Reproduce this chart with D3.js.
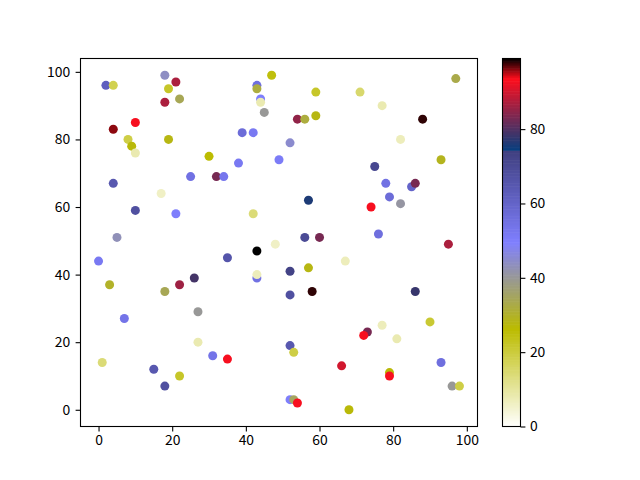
<!DOCTYPE html>
<html>
<head>
<meta charset="utf-8">
<script src="https://cdn.jsdelivr.net/npm/d3@7"></script>
<style>
  body { margin: 0; background: #fff; }
  text { font-family: "Noto Sans CJK SC", "Liberation Sans", sans-serif; font-size: 13.9px; fill: #000; }
</style>
</head>
<body>
<div id="chart"></div>
<script>
// scatter points: x, y, colour value
var xs = [2, 4, 18, 21, 19, 18, 22, 47, 43, 43, 44, 44, 45, 4, 10, 8, 9, 10, 19, 39,
          42, 30, 38, 49, 25, 32, 34, 4, 17, 10, 21, 42, 5, 48, 97, 59, 71, 77, 54, 56,
          59, 88, 82, 52, 93, 75, 78, 85, 86, 79, 82, 74, 57, 56, 60, 76, 95, 0, 3, 7,
          1, 18, 22, 26, 35, 43, 43, 43, 27, 27, 31, 35, 15, 18, 22, 67, 52, 57, 52, 58,
          86, 90, 73, 72, 77, 81, 52, 53, 66, 79, 79, 93, 96, 98, 52, 53, 54, 68];
var ys = [96, 96, 99, 97, 95, 91, 92, 99, 96, 95, 92, 91, 88, 83, 85, 80, 78, 76, 80, 82,
          82, 75, 73, 74, 69, 69, 69, 67, 64, 59, 58, 58, 51, 49, 98, 94, 94, 90, 86, 86,
          87, 86, 80, 79, 74, 72, 67, 66, 67, 63, 61, 60, 62, 51, 51, 52, 49, 44, 37, 27,
          14, 35, 37, 39, 45, 47, 39, 40, 29, 20, 16, 15, 12, 7, 10, 44, 41, 42, 34, 35,
          35, 26, 23, 22, 25, 21, 19, 17, 13, 11, 10, 14, 7, 7, 3, 3, 2, 0];
var cs = [62, 18, 44, 87, 22, 87, 34, 25, 56, 32, 50, 8, 40, 96, 93, 19, 27, 8, 28, 57,
          52, 26, 52, 51, 55, 83, 53, 65, 6, 68, 50, 14, 43, 6, 33, 22, 15, 8, 85, 32,
          28, 98, 7, 45, 29, 71, 55, 60, 83, 57, 41, 93, 76, 70, 83, 56, 87, 52, 30, 54,
          14, 34, 86, 79, 66, 99, 55, 7, 40, 8, 54, 93, 65, 68, 22, 7, 73, 28, 68, 98,
          78, 21, 83, 93, 7, 8, 65, 19, 90, 27, 93, 56, 40, 19, 50, 35, 93, 27];

var cRange = [0, 99];
var xTicks = [0, 20, 40, 60, 80, 100];
var yTicks = [0, 20, 40, 60, 80, 100];
var cTicks = [0, 20, 40, 60, 80];

var width = 640, height = 480;
var plot = { left: 80.5, right: 477.5, top: 58.5, bottom: 426.5 };
var bar = { left: 502.5, right: 520.5 };
var font = "Noto Sans CJK SC, Liberation Sans, sans-serif";

// matplotlib gist_stern, reversed
function gistStern(t) {
  var r, g = t, b;
  if (t < 0.0547) r = t / 0.0547;
  else if (t < 0.25) r = 1 - (t - 0.0547) / (0.25 - 0.0547) * (1 - 0.027);
  else r = t;
  if (t < 0.5) b = 2 * t;
  else if (t < 0.735) b = 1 - (t - 0.5) / 0.235;
  else b = (t - 0.735) / 0.265;
  return d3.rgb(r * 255, g * 255, b * 255).toString();
}
var colour = d3.scaleLinear().domain(cRange).range([1, 0]).clamp(true);
function fill(v) { return gistStern(colour(v)); }

// domains with matplotlib's 5% margins
var xExt = d3.extent(xs), yExt = d3.extent(ys);
var xPad = (xExt[1] - xExt[0]) * 0.05, yPad = (yExt[1] - yExt[0]) * 0.05;
var x = d3.scaleLinear().domain([xExt[0] - xPad, xExt[1] + xPad]).range([plot.left, plot.right]);
var y = d3.scaleLinear().domain([yExt[0] - yPad, yExt[1] + yPad]).range([plot.bottom, plot.top]);
var cy = d3.scaleLinear().domain(cRange).range([plot.bottom, plot.top]);

var svg = d3.select("#chart").append("svg")
    .attr("width", width)
    .attr("height", height);

svg.append("g")
    .selectAll("circle")
    .data(d3.range(xs.length))
    .enter().append("circle")
    .attr("cx", function (i) { return x(xs[i]); })
    .attr("cy", function (i) { return y(ys[i]); })
    .attr("r", 4.5)
    .attr("fill", function (i) { return fill(cs[i]); });

svg.append("rect")
    .attr("x", plot.left).attr("y", plot.top)
    .attr("width", plot.right - plot.left).attr("height", plot.bottom - plot.top)
    .attr("fill", "none").attr("stroke", "#000").attr("stroke-width", 1.1);

var xAxis = svg.append("g")
    .attr("transform", "translate(0," + plot.bottom + ")")
    .call(d3.axisBottom(x).tickValues(xTicks).tickSize(4.9).tickPadding(4));
var yAxis = svg.append("g")
    .attr("transform", "translate(" + plot.left + ",0)")
    .call(d3.axisLeft(y).tickValues(yTicks).tickSize(4.9).tickPadding(5.5));

// colour bar
var steps = d3.range(256).map(function (k) { return cRange[0] + (cRange[1] - cRange[0]) * (k + 0.5) / 256; });
var stepH = (plot.bottom - plot.top) / 256;
svg.append("g")
    .selectAll("rect")
    .data(steps)
    .enter().append("rect")
    .attr("x", bar.left)
    .attr("width", bar.right - bar.left)
    .attr("y", function (d, k) { return plot.bottom - (k + 1) * stepH - 0.3; })
    .attr("height", stepH + 0.6)
    .attr("fill", function (d) { return fill(d); });

svg.append("rect")
    .attr("x", bar.left).attr("y", plot.top)
    .attr("width", bar.right - bar.left).attr("height", plot.bottom - plot.top)
    .attr("fill", "none").attr("stroke", "#000").attr("stroke-width", 1.1);

var cAxis = svg.append("g")
    .attr("transform", "translate(" + bar.right + ",0)")
    .call(d3.axisRight(cy).tickValues(cTicks).tickSize(4.9).tickPadding(4.5));

[xAxis, yAxis, cAxis].forEach(function (a) {
  a.select(".domain").remove();
  a.selectAll(".tick line").attr("stroke-width", 1.1);
  a.selectAll("text").attr("font-family", font).attr("font-size", 13.9);
});
</script>
</body>
</html>
